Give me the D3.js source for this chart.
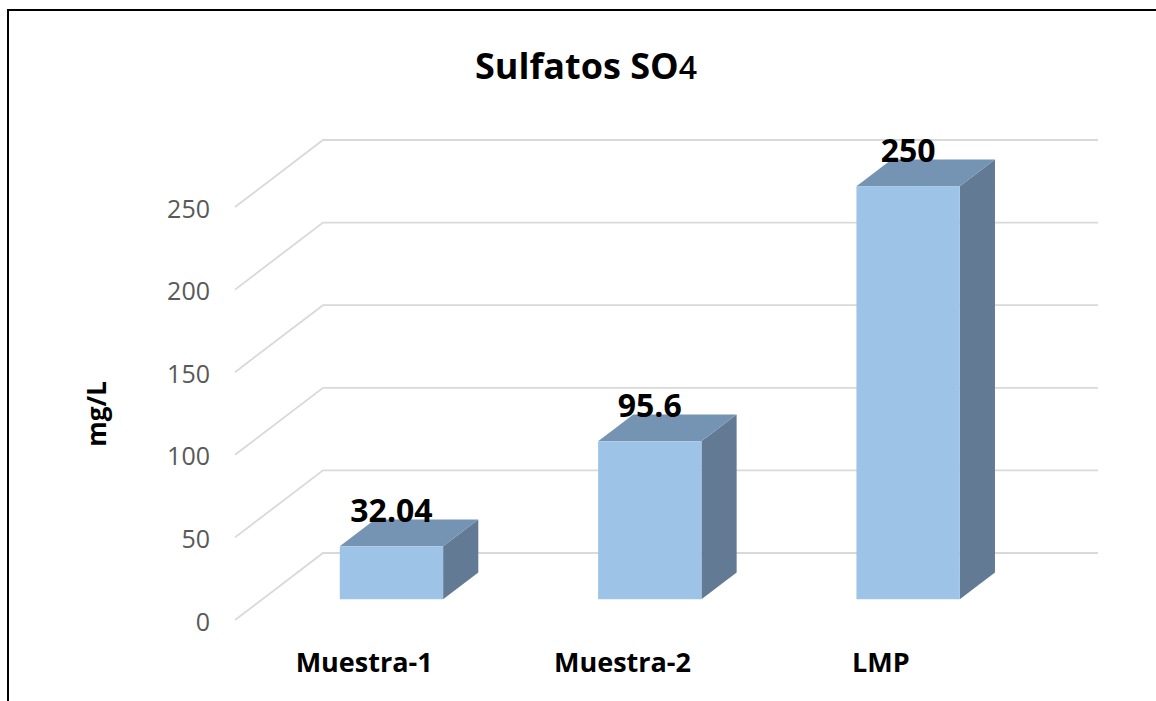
<!DOCTYPE html>
<html>
<head>
<meta charset="utf-8">
<script src="https://cdn.jsdelivr.net/npm/d3@7"></script>
<style>
	body { margin: 0; background: #fff; }
	svg { display: block; font-family: "Open Sans", sans-serif; }
</style>
</head>
<body>
<svg width="1156" height="701"></svg>
<script>
const categories = ['Muestra-1', 'Muestra-2', 'LMP'],
	values = [32.04, 95.6, 250],
	valueLabels = ['32.04', '95.6', '250'],
	yTicks = [0, 50, 100, 150, 200, 250];

const svg = d3.select('svg');

// floor depth: back wall -> front edge
const depth = {dx: -88, dy: 67},
	frontT = 0.69,   // bar front face position in depth
	backT = 0.29;    // bar back face position in depth

const xScale = d3.scaleBand().domain(categories).range([323, 1098]);
const yScale = d3.scaleLinear().domain([0, 250]).range([553, 140]);

// outer border
svg.append('rect')
	.attr('x', 8).attr('y', 10)
	.attr('width', 1200).attr('height', 760)
	.attr('fill', 'none')
	.attr('stroke', '#000')
	.attr('stroke-width', 2);

// title
let title = svg.append('text')
	.attr('x', 586)
	.attr('y', 79)
	.attr('text-anchor', 'middle')
	.style('font-size', '36px')
	.style('font-weight', 'bold')
	.attr('fill', '#000');
title.append('tspan').text('Sulfatos SO');
title.append('tspan').style('font-weight', 600).style('font-size', '32px').text('4');

// gridlines: back wall + side wall
let grid = svg.append('g').attr('class', 'grid');
grid.selectAll('path')
	.data(yTicks)
	.enter()
	.append('path')
	.attr('d', d => {
		let y = yScale(d);
		return `M${xScale.range()[1]},${y}H${xScale.range()[0]}l${depth.dx},${depth.dy}`;
	})
	.attr('fill', 'none')
	.attr('stroke', '#d9d9d9')
	.attr('stroke-width', 1.8);

// y axis, on the front edge of the side wall
let yAxis = svg.append('g')
	.attr('transform', `translate(${xScale.range()[0] + depth.dx},${depth.dy + 2})`)
	.call(d3.axisLeft(yScale).tickValues(yTicks).tickSize(0).tickPadding(25));
yAxis.select('.domain').remove();
yAxis.selectAll('text')
	.attr('fill', '#595959')
	.style('font-size', '25px')
	.style('font-family', '"Open Sans", sans-serif');

// y axis title
svg.append('text')
	.attr('transform', 'translate(106,414) rotate(-90)')
	.attr('text-anchor', 'middle')
	.style('font-size', '26px')
	.style('font-weight', 'bold')
	.text('mg/L');

// bars
const barW = xScale.bandwidth() * 0.4,
	fx = frontT * depth.dx, fy = frontT * depth.dy,
	ddx = (backT - frontT) * depth.dx, ddy = (backT - frontT) * depth.dy;

let bars = svg.selectAll('.bar')
	.data(categories)
	.enter()
	.append('g')
	.attr('class', 'bar');

bars.each(function(c, i) {
	let g = d3.select(this),
		cx = xScale(c) + xScale.bandwidth() / 2 + fx,
		x0 = cx - barW / 2, x1 = cx + barW / 2,
		yT = yScale(values[i]) + fy,
		yB = yScale(0) + fy;

	// side face
	g.append('path')
		.attr('d', `M${x1},${yT}l${ddx},${ddy}V${yB + ddy}L${x1},${yB}Z`)
		.attr('fill', '#637a94');
	// top face
	g.append('path')
		.attr('d', `M${x0},${yT}H${x1}l${ddx},${ddy}H${x0 + ddx}Z`)
		.attr('fill', '#7593b2');
	// front face
	g.append('rect')
		.attr('x', x0).attr('y', yT)
		.attr('width', barW).attr('height', yB - yT)
		.attr('fill', '#9dc3e6');

	// value label
	g.append('text')
		.attr('x', cx)
		.attr('y', yT - 24)
		.attr('text-anchor', 'middle')
		.style('font-size', '32px')
		.style('font-weight', 'bold')
		.attr('fill', '#000')
		.text(valueLabels[i]);
});

// category labels at the front edge of the floor
svg.append('g')
	.selectAll('text')
	.data(categories)
	.enter()
	.append('text')
	.attr('x', d => xScale(d) + xScale.bandwidth() / 2 + depth.dx)
	.attr('y', 672)
	.attr('text-anchor', 'middle')
	.style('font-size', '27px')
	.style('font-weight', 'bold')
	.attr('fill', '#000')
	.text(d => d);
</script>
</body>
</html>
